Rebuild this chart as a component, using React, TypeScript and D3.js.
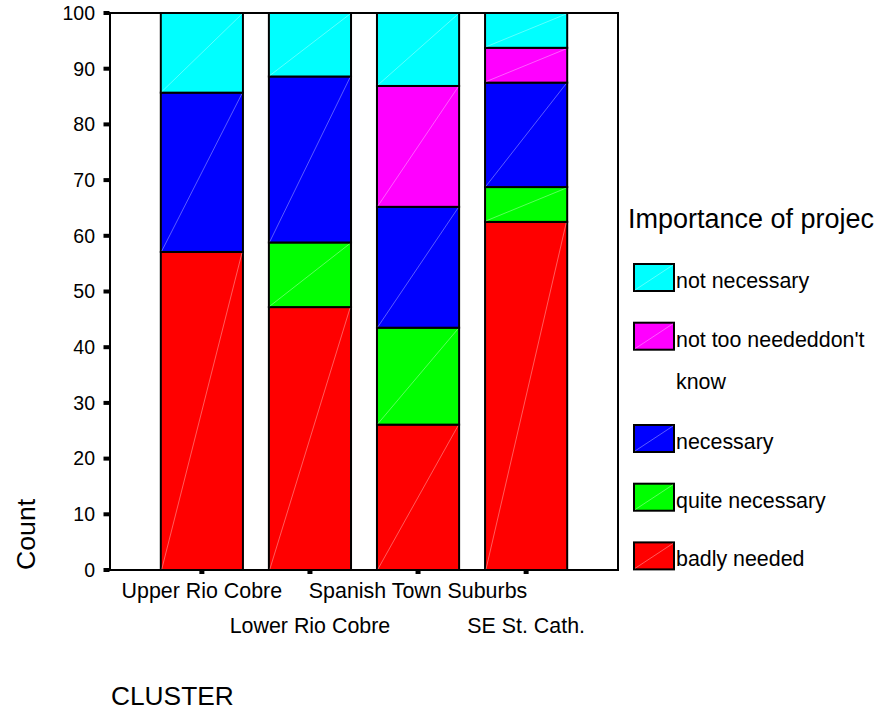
import React from "react";
import * as d3 from "d3";

const categories = ["Upper Rio Cobre", "Lower Rio Cobre", "Spanish Town Suburbs", "SE St. Cath."];
const seriesKeys = ["badly needed", "quite necessary", "necessary", "not too neededdon't know", "not necessary"];
const badlyNeeded = [57.1, 47.2, 26.1, 62.5];
const quiteNecessary = [0, 11.6, 17.4, 6.25];
const necessary = [28.6, 29.8, 21.7, 18.75];
const notTooNeeded = [0, 0, 21.7, 6.25];
const notNecessary = [14.3, 11.4, 13.1, 6.25];
const yTicks = [0, 10, 20, 30, 40, 50, 60, 70, 80, 90, 100];
const colors = ["#ff0000", "#00ff00", "#0000ff", "#ff00ff", "#00ffff"];
const legendOrder = ["not necessary", "not too neededdon't know", "necessary", "quite necessary", "badly needed"];

const FONT = "'Liberation Sans', Arial, sans-serif";

export default function App() {
  const W = 880, H = 711;
  const left = 110, right = 618, top = 13, bottom = 570;
  const x = d3.scaleBand<string>().domain(categories).range([left, right]).paddingInner(0.24).paddingOuter(0.47);
  const y = d3.scaleLinear().domain([0, 100]).range([bottom, top]);
  const color = d3.scaleOrdinal<string, string>().domain(seriesKeys).range(colors);

  const rows = categories.map((c, i) => ({
    cat: c,
    "badly needed": badlyNeeded[i],
    "quite necessary": quiteNecessary[i],
    "necessary": necessary[i],
    "not too neededdon't know": notTooNeeded[i],
    "not necessary": notNecessary[i],
  }));
  const stacked = d3.stack<any>().keys(seriesKeys)(rows);

  const legendX = 634, legendY0 = 264, sw = 40, sh = 27, step = 58.7, wrapExtra = 43.6;
  let ly = legendY0;
  const legendItems = legendOrder.map((k) => {
    const item = { key: k, y: ly };
    ly += step + (k === "not too neededdon't know" ? wrapExtra : 0);
    return item;
  });

  const labelSize = 21.4;

  return (
    <svg width={W} height={H} style={{ position: "absolute", left: 0, top: 0, background: "#fff" }} fontFamily={FONT}>
      <rect x={0} y={0} width={W} height={H} fill="#fff" />
      {/* bars */}
      {stacked.map((s) => (
        <g key={s.key}>
          {s.map((d, i) => {
            const v = d[1] - d[0];
            if (v <= 0) return null;
            const x0 = x(categories[i])!;
            const bw = x.bandwidth();
            const y0 = y(d[0]);
            const y1 = y(d[1]);
            return (
              <g key={i}>
                <rect x={x0} y={y1} width={bw} height={y0 - y1} fill={color(s.key)} stroke="#000" strokeWidth={2} />
                <line x1={x0 + 1} y1={y0 - 1} x2={x0 + bw - 1} y2={y1 + 1} stroke="#fff" strokeOpacity={0.45} strokeWidth={0.8} />
              </g>
            );
          })}
        </g>
      ))}
      {/* frame */}
      <rect x={left} y={top} width={right - left} height={bottom - top} fill="none" stroke="#000" strokeWidth={2} />
      {/* y ticks */}
      {yTicks.map((t) => (
        <g key={t}>
          <rect x={left - 6.5} y={y(t) - 2} width={6} height={4} fill="#000" />
          <text x={95} y={y(t)} dy="0.35em" textAnchor="end" fontSize={19.5} fill="#000">{t}</text>
        </g>
      ))}
      {/* x ticks and labels */}
      {categories.map((c, i) => {
        const cx = x(c)! + x.bandwidth() / 2;
        return (
          <g key={c}>
            <rect x={cx - 2.5} y={bottom} width={5} height={4} fill="#000" />
            <text x={cx} y={i % 2 === 0 ? 598 : 633} textAnchor="middle" fontSize={labelSize} fill="#000">{c}</text>
          </g>
        );
      })}
      {/* axis titles */}
      <text transform={`translate(35,570) rotate(-90)`} textAnchor="start" fontSize={26.7} fill="#000">Count</text>
      <text x={111} y={705} fontSize={26.3} fill="#000">CLUSTER</text>
      {/* legend */}
      <text x={628} y={228} fontSize={27} fill="#000">Importance of projec</text>
      {legendItems.map((it) => (
        <g key={it.key}>
          <rect x={legendX} y={it.y} width={sw} height={sh} fill={color(it.key)} stroke="#000" strokeWidth={2} />
          <line x1={legendX + 1} y1={it.y + sh - 1} x2={legendX + sw - 1} y2={it.y + 1} stroke="#fff" strokeOpacity={0.45} strokeWidth={0.8} />
          {it.key === "not too neededdon't know" ? (
            <>
              <text x={676} y={it.y + sh - 3} fontSize={labelSize} fill="#000">not too neededdon't</text>
              <text x={676} y={it.y + sh - 3 + 42} fontSize={labelSize} fill="#000">know</text>
            </>
          ) : (
            <text x={676} y={it.y + sh - 3} fontSize={labelSize} fill="#000">{it.key}</text>
          )}
        </g>
      ))}
    </svg>
  );
}
